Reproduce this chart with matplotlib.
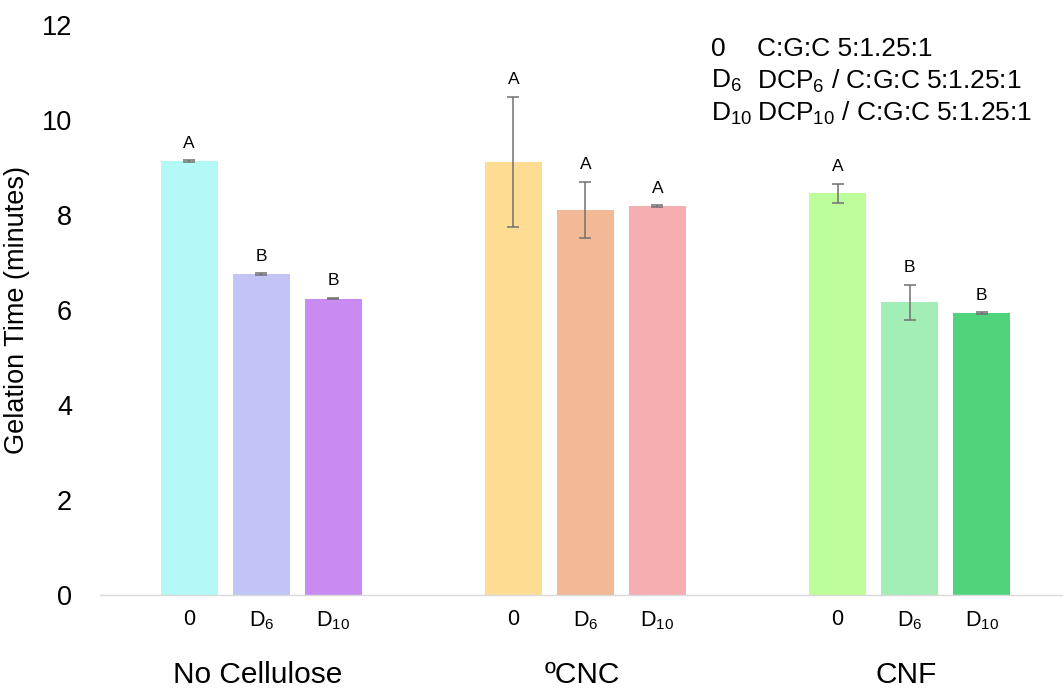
#!/usr/bin/env python3
"""Gelation time bar chart by cellulose type and crosslinker."""

import matplotlib

matplotlib.use("Agg")
import matplotlib.pyplot as plt
import numpy as np

GROUPS = ["No Cellulose", "ºCNC", "CNF"]
TREATMENTS = ["0", "D$_{\\mathregular{6}}$", "D$_{\\mathregular{10}}$"]
MEANS = [9.13, 6.75, 6.24, 9.11, 8.10, 8.18, 8.46, 6.16, 5.93]
ERRORS = [0.02, 0.02, 0.02, 1.37, 0.59, 0.02, 0.20, 0.37, 0.02]
LETTERS = ["A", "B", "B", "A", "A", "A", "A", "B", "B"]
COLORS = ["#B3F9F8", "#C2C4F7", "#C98AF1", "#FEDC94", "#F2B997", "#F6AEB1", "#BEFD9C", "#A3EDB6", "#4FD47C"]
LEGEND_KEYS = ["0", "D$_{\\mathregular{6}}$", "D$_{\\mathregular{10}}$"]
LEGEND_TEXT = ["C:G:C 5:1.25:1", "DCP$_{\\mathregular{6}}$ / C:G:C 5:1.25:1", "DCP$_{\\mathregular{10}}$ / C:G:C 5:1.25:1"]


def setup_style() -> None:
    plt.rcParams.update(
        {
            "font.family": "Liberation Sans",
            "mathtext.fontset": "custom",
            "mathtext.rm": "Liberation Sans",
            "mathtext.it": "Liberation Sans:italic",
            "mathtext.bf": "Liberation Sans:bold",
        }
    )


def main() -> None:
    setup_style()
    fig = plt.figure(figsize=(10.63, 6.88), dpi=100)
    ax = fig.add_axes([0.094, 0.135, 0.906, 0.829])

    group_gap = 4.5
    x = np.array([g * group_gap + i for g in range(len(GROUPS)) for i in range(len(TREATMENTS))])
    ax.bar(x, MEANS, width=0.79, color=COLORS, zorder=2)
    ax.errorbar(x, MEANS, yerr=ERRORS, fmt="none", ecolor="#707070", elinewidth=1.1, capsize=4, capthick=1.1, zorder=3)
    for xi, m, e, lab in zip(x, MEANS, ERRORS, LETTERS):
        ax.annotate(lab, (xi, m + e), xytext=(0, 7), textcoords="offset points", ha="center", va="bottom", fontsize=12.5)

    ax.set_xlim(-1.24, 12.13)
    ax.set_ylim(0, 12)
    ax.set_yticks(np.arange(0, 13, 2))
    ax.tick_params(axis="y", length=0, pad=20, labelsize=19.5)
    ax.set_xticks(x)
    ax.set_xticklabels(TREATMENTS * len(GROUPS), fontsize=15.5)
    ax.tick_params(axis="x", length=0, pad=10)
    for side in ["top", "right", "left"]:
        ax.spines[side].set_visible(False)
    ax.spines["bottom"].set_color("#d9d9d9")
    ax.spines["bottom"].set_linewidth(1.0)
    ax.set_ylabel("Gelation Time (minutes)", fontsize=19.5)
    ax.yaxis.set_label_coords(-0.073, 0.5)

    for g, name in enumerate(GROUPS):
        ax.text(g * group_gap + 0.95, -1.68, name, ha="center", va="center", fontsize=21.5)

    for i, (key, txt) in enumerate(zip(LEGEND_KEYS, LEGEND_TEXT)):
        yy = 0.929 - i * 0.047
        fig.text(0.669, yy, key, ha="left", va="center", fontsize=19)
        fig.text(0.712, yy, txt, ha="left", va="center", fontsize=19)

    fig.savefig("out.png", dpi=100)
    plt.close(fig)


if __name__ == "__main__":
    main()
